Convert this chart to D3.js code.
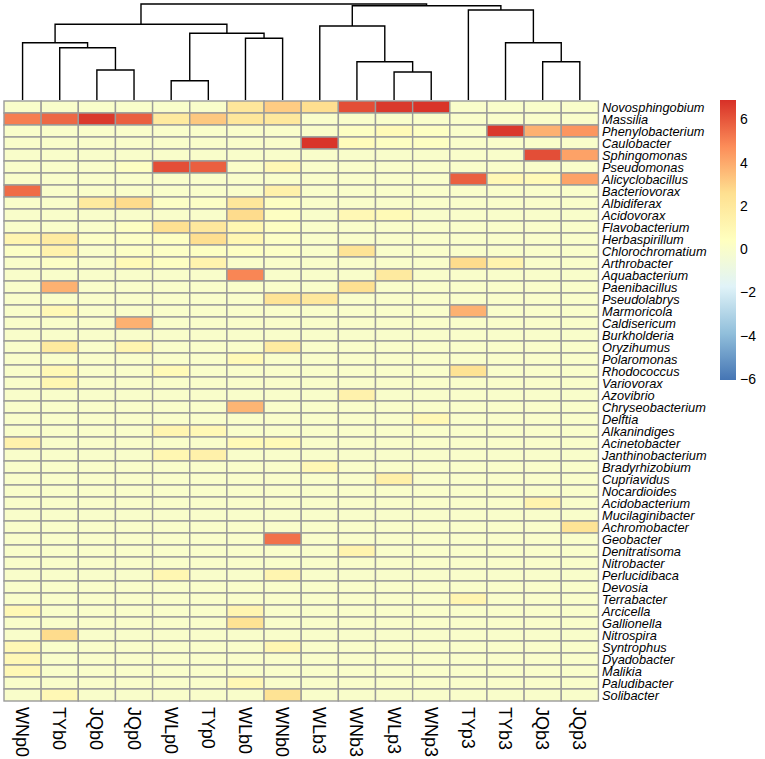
<!DOCTYPE html>
<html>
<head>
<meta charset="utf-8">
<script src="https://cdn.jsdelivr.net/npm/d3@7"></script>
<style>
  body { margin: 0; background: #fff; }
  svg { font-family: "Liberation Sans", Arial, sans-serif; }
</style>
</head>
<body>
<div id="container"></div>
<script>
// column order (after clustering) and row labels
const samples = ["WNp0","TYb0","JQb0","JQp0","WLp0","TYp0","WLb0","WNb0",
                 "WLb3","WNb3","WLp3","WNp3","TYp3","TYb3","JQb3","JQp3"];

const genera = ["Novosphingobium","Massilia","Phenylobacterium","Caulobacter","Sphingomonas",
  "Pseudomonas","Alicyclobacillus","Bacteriovorax","Albidiferax","Acidovorax","Flavobacterium",
  "Herbaspirillum","Chlorochromatium","Arthrobacter","Aquabacterium","Paenibacillus","Pseudolabrys",
  "Marmoricola","Caldisericum","Burkholderia","Oryzihumus","Polaromonas","Rhodococcus","Variovorax",
  "Azovibrio","Chryseobacterium","Delftia","Alkanindiges","Acinetobacter","Janthinobacterium",
  "Bradyrhizobium","Cupriavidus","Nocardioides","Acidobacterium","Mucilaginibacter","Achromobacter",
  "Geobacter","Denitratisoma","Nitrobacter","Perlucidibaca","Devosia","Terrabacter","Arcicella",
  "Gallionella","Nitrospira","Syntrophus","Dyadobacter","Malikia","Paludibacter","Solibacter"];

// one row per genus, one value per sample (same order as samples)
const values = [
  [0.0, 0.0, 0.0, 0.0, 0.0, 0.0, 2.1, 3.1, 2.6, 6.2, 6.7, 6.8, 0.0, 0.0, 0.0, 0.0],
  [5.1, 5.6, 6.7, 5.8, 1.9, 3.2, 2.1, 2.0, 0.0, 0.0, 0.0, 0.0, 0.0, 0.0, 0.0, 0.0],
  [0.0, 0.0, 0.0, 0.0, 0.0, 0.0, 0.0, 0.0, 0.0, 0.3, 0.8, 0.3, 0.0, 6.7, 3.8, 4.5],
  [0.0, 0.0, 0.0, 0.0, 0.0, 0.0, 0.0, 0.0, 6.8, 0.6, 0.3, 0.3, 0.0, 0.0, 0.0, 0.0],
  [0.0, 0.0, 0.0, 0.0, 0.0, 0.0, 0.0, 0.0, 0.0, 0.0, 0.0, 0.0, 0.0, 0.0, 6.2, 4.2],
  [0.0, 0.0, 0.0, 0.3, 6.2, 5.8, 0.1, 0.9, 0.0, 0.0, 0.0, 0.0, 0.0, 0.0, 0.0, 0.0],
  [0.0, 0.0, 0.0, 0.0, 0.0, 0.0, 0.0, 0.0, 0.0, 0.0, 0.0, 0.0, 5.8, 0.9, 0.8, 4.2],
  [5.5, 0.0, 0.0, 0.0, 0.0, 0.0, 0.0, 1.4, 0.0, 0.0, 0.0, 0.0, 0.0, 0.0, 0.0, 0.0],
  [0.0, 0.0, 1.9, 2.7, 0.2, 0.2, 2.1, 0.3, 0.0, 0.0, 0.0, 0.0, 0.0, 0.0, 0.0, 0.0],
  [0.0, 0.0, 0.0, 0.0, 0.0, 0.0, 2.7, 0.3, 0.0, 0.9, 0.8, 0.0, 0.0, 0.0, 0.0, 0.0],
  [0.0, 0.0, 0.0, 0.3, 2.5, 2.0, 1.0, 0.3, 0.0, 0.0, 0.0, 0.0, 0.0, 0.0, 0.0, 0.0],
  [1.1, 1.8, 0.2, 0.2, 0.3, 2.6, 1.0, 0.2, 0.0, 0.0, 0.0, 0.0, 0.0, 0.0, 0.0, 0.0],
  [0.2, 1.3, 0.0, 0.2, 0.2, 0.3, 0.3, 0.2, 0.0, 2.3, 0.0, 0.0, 0.0, 0.0, 0.0, 0.0],
  [0.0, 0.2, 0.0, 0.8, 0.3, 1.2, 0.0, 0.0, 0.0, 0.0, 0.0, 0.0, 2.7, 1.2, 0.0, 0.0],
  [0.0, 0.0, 0.0, 0.0, 0.0, 0.0, 4.9, 0.0, 0.0, 0.0, 1.9, 0.0, 0.0, 0.0, 0.0, 0.0],
  [0.0, 3.8, 0.0, 0.0, 0.0, 0.0, 0.0, 0.0, 0.0, 2.5, 0.0, 0.0, 0.0, 0.0, 0.0, 0.0],
  [0.0, 0.0, 0.0, 0.0, 0.0, 0.0, 0.0, 2.3, 2.0, 0.0, 0.0, 0.0, 0.0, 0.0, 0.0, 0.0],
  [0.0, 0.9, 0.0, 0.0, 0.0, 0.0, 0.0, 0.0, 0.0, 0.0, 0.0, 0.0, 3.8, 0.0, 0.0, 0.0],
  [0.0, 0.0, 0.0, 3.8, 0.0, 0.0, 0.0, 0.0, 0.0, 0.0, 0.0, 0.0, 0.0, 0.0, 0.0, 0.0],
  [0.0, 0.0, 0.0, 0.0, 0.0, 0.0, 0.0, 0.0, 0.0, 0.0, 0.0, 0.0, 0.0, 0.0, 0.0, 0.0],
  [0.0, 1.9, 0.0, 1.1, 0.0, 0.0, 0.0, 1.8, 0.0, 0.0, 0.0, 0.0, 0.0, 0.0, 0.0, 0.0],
  [0.0, 0.0, 0.0, 0.0, 0.0, 0.0, 0.8, 0.0, 0.0, 0.0, 0.0, 0.0, 0.0, 0.0, 0.0, 0.0],
  [0.0, 0.9, 0.0, 0.0, 0.8, 0.0, 0.0, 0.0, 0.0, 0.0, 0.0, 0.0, 2.4, 0.0, 0.0, 0.0],
  [0.0, 1.0, 0.0, 0.0, 0.0, 0.0, 0.0, 0.0, 0.0, 0.0, 0.0, 0.0, 0.0, 0.0, 0.0, 0.0],
  [0.0, 0.0, 0.0, 0.0, 0.0, 0.0, 0.0, 0.0, 0.0, 1.3, 0.0, 0.0, 0.0, 0.0, 0.0, 0.0],
  [0.0, 0.0, 0.0, 0.0, 0.0, 0.0, 3.7, 0.0, 0.0, 0.0, 0.0, 0.0, 0.0, 0.0, 0.0, 0.0],
  [0.0, 0.0, 0.0, 0.0, 0.0, 0.0, 0.0, 0.0, 0.0, 0.0, 0.0, 0.9, 0.0, 0.0, 0.0, 0.0],
  [0.0, 0.0, 0.0, 0.0, 1.1, 0.9, 0.0, 0.0, 0.0, 0.0, 0.0, 0.0, 0.0, 0.0, 0.0, 0.0],
  [1.3, 0.0, 0.0, 0.0, 0.0, 0.0, 0.8, 0.8, 0.0, 0.0, 0.0, 0.0, 0.0, 0.0, 0.0, 0.0],
  [0.0, 0.0, 0.0, 0.0, 1.0, 1.4, 0.0, 0.0, 0.0, 0.0, 0.0, 0.0, 0.0, 0.0, 0.0, 0.0],
  [0.0, 0.0, 0.0, 0.0, 0.0, 0.0, 0.0, 0.0, 0.9, 0.0, 0.0, 0.0, 0.0, 0.0, 0.0, 0.0],
  [0.0, 0.0, 0.0, 0.0, 0.0, 0.0, 0.0, 0.0, 0.0, 0.0, 1.5, 0.0, 0.0, 0.0, 0.0, 0.0],
  [0.0, 0.0, 0.0, 0.0, 0.0, 0.0, 0.0, 0.0, 0.0, 0.0, 0.0, 0.0, 0.0, 0.0, 0.0, 0.0],
  [0.0, 0.0, 0.0, 0.0, 0.0, 0.0, 0.0, 0.0, 0.0, 0.0, 0.0, 0.0, 0.0, 0.0, 1.2, 0.0],
  [0.0, 0.0, 0.0, 0.0, 0.0, 0.0, 0.0, 0.0, 0.0, 0.0, 0.0, 0.0, 0.0, 0.0, 0.0, 0.0],
  [0.0, 0.0, 0.0, 0.0, 0.0, 0.0, 0.0, 0.0, 0.0, 0.0, 0.0, 0.0, 0.0, 0.0, 0.0, 2.3],
  [0.0, 0.0, 0.0, 0.0, 0.0, 0.0, 0.0, 5.4, 0.0, 0.0, 0.0, 0.0, 0.0, 0.0, 0.0, 0.0],
  [0.0, 0.0, 0.0, 0.0, 0.0, 0.0, 0.0, 0.0, 0.0, 1.2, 0.0, 0.0, 0.0, 0.0, 0.0, 0.0],
  [0.0, 0.0, 0.0, 0.0, 0.0, 0.0, 0.0, 0.0, 0.0, 0.0, 0.0, 0.0, 0.0, 0.0, 0.0, 0.0],
  [0.0, 0.0, 0.0, 0.0, 1.0, 0.0, 0.0, 1.1, 0.0, 0.0, 0.0, 0.0, 0.0, 0.0, 0.0, 0.0],
  [0.0, 0.0, 0.0, 0.0, 0.0, 0.0, 0.0, 0.0, 0.0, 0.0, 0.0, 0.0, 0.0, 0.0, 0.0, 0.0],
  [0.0, 0.0, 0.0, 0.0, 0.0, 0.0, 0.0, 0.0, 0.0, 0.0, 0.0, 0.0, 1.1, 0.0, 0.0, 0.0],
  [0.9, 0.0, 0.0, 0.0, 0.0, 0.0, 1.1, 0.0, 0.0, 0.0, 0.0, 0.0, 0.0, 0.0, 0.0, 0.0],
  [0.0, 0.0, 0.0, 0.0, 0.0, 0.0, 2.4, 0.0, 0.0, 0.0, 0.0, 0.0, 0.0, 0.0, 0.0, 0.0],
  [0.0, 2.7, 0.0, 0.0, 0.0, 0.0, 0.0, 0.0, 0.0, 0.0, 0.0, 0.0, 0.0, 0.0, 0.0, 0.0],
  [0.9, 0.0, 0.0, 0.0, 0.0, 0.0, 0.0, 1.0, 0.0, 0.0, 0.0, 0.0, 0.0, 0.0, 0.0, 0.0],
  [0.9, 0.0, 0.0, 0.0, 0.0, 0.0, 0.0, 0.0, 0.0, 0.0, 0.0, 0.0, 0.0, 0.0, 0.0, 0.0],
  [0.9, 0.0, 0.0, 0.0, 0.0, 0.0, 0.0, 0.0, 0.0, 0.0, 0.0, 0.0, 0.0, 0.0, 0.0, 0.0],
  [0.0, 0.0, 0.0, 0.0, 0.0, 0.0, 0.9, 0.0, 0.0, 0.0, 0.0, 0.0, 0.0, 0.0, 0.0, 0.0],
  [0.0, 0.9, 0.0, 0.0, 0.0, 0.0, 0.0, 2.4, 0.0, 0.0, 0.0, 0.0, 0.0, 0.0, 0.0, 0.0]
];

// column dendrogram: [left, right, height]; strings = leaves, numbers = earlier merges
const merges = [
  ["WLp0", "TYp0", 19.3],
  ["WLp3", "WNp3", 28],
  ["JQb0", "JQp0", 30],
  ["WNb3", 1, 38.3],
  ["JQb3", "JQp3", 38.3],
  ["TYb0", 2, 52.3],
  ["WNp0", 5, 57.3],
  ["TYb3", 4, 57.3],
  ["WLb0", "WNb0", 61.7],
  [0, 8, 66.7],
  ["WLb3", 3, 74],
  [6, 9, 75.7],
  ["TYp3", 7, 90],
  [10, 12, 94.3],
  [11, 13, 96]
];

const legendTicks = [6, 4, 2, 0, -2, -4, -6];
const palette = ["#4575B4","#91BFDB","#E0F3F8","#FFFFBF","#FEE090","#FC8D59","#D73027"];
const valueRange = [-6.05, 6.9];

const width = 765, height = 759;

const svg = d3.select("#container").append("svg")
    .attr("width", width)
    .attr("height", height);

const x = d3.scaleBand().domain(samples).range([4, 598.4]);
const y = d3.scaleBand().domain(genera).range([101, 701]);

const step = (valueRange[1] - valueRange[0]) / (palette.length - 1);
const color = d3.scaleLinear()
    .domain(palette.map((c, i) => valueRange[0] + i * step))
    .range(palette)
    .clamp(true);

// cells
const cells = [];
values.forEach((row, i) => row.forEach((v, j) => cells.push({g: genera[i], s: samples[j], v: v})));

svg.append("g")
  .selectAll("rect")
  .data(cells)
  .join("rect")
    .attr("x", d => x(d.s))
    .attr("y", d => y(d.g))
    .attr("width", x.bandwidth())
    .attr("height", y.bandwidth())
    .attr("fill", d => color(d.v))
    .attr("stroke", "#9a9a9a")
    .attr("stroke-width", 1.4);

// row labels
svg.append("g")
  .selectAll("text")
  .data(genera)
  .join("text")
    .attr("x", 602)
    .attr("y", d => y(d) + y.bandwidth() / 2)
    .attr("dy", "0.36em")
    .attr("font-size", "12.8px")
    .attr("font-style", "italic")
    .attr("fill", "#000")
    .text(d => d);

// column labels, rotated
svg.append("g")
  .selectAll("text")
  .data(samples)
  .join("text")
    .attr("transform", d => `translate(${x(d) + x.bandwidth() / 2},707) rotate(90)`)
    .attr("dy", "0.36em")
    .attr("font-size", "18px")
    .attr("fill", "#000")
    .text(d => d);

// dendrogram
const h = d3.scaleLinear().domain([0, 96]).range([100, 4]);
const nodes = [];
function pos(ref) {
  if (typeof ref === "string") return {x: x(ref) + x.bandwidth() / 2, y: h(0)};
  return nodes[ref];
}
const dendro = svg.append("g")
    .attr("fill", "none")
    .attr("stroke", "#000")
    .attr("stroke-width", 1.4);
merges.forEach(m => {
  const a = pos(m[0]), b = pos(m[1]), yy = h(m[2]);
  dendro.append("path")
      .attr("d", `M${a.x},${a.y}V${yy}H${b.x}V${b.y}`);
  nodes.push({x: (a.x + b.x) / 2, y: yy});
});

// legend
const legTop = 100, legBottom = 380;
const ly = d3.scaleLinear().domain([valueRange[1], valueRange[0]]).range([legTop, legBottom]);
const grad = svg.append("defs").append("linearGradient")
    .attr("id", "leg")
    .attr("x1", 0).attr("x2", 0).attr("y1", 0).attr("y2", 1);
palette.slice().reverse().forEach((c, i) => {
  grad.append("stop")
      .attr("offset", i / (palette.length - 1))
      .attr("stop-color", c);
});
svg.append("rect")
    .attr("x", 720)
    .attr("y", legTop)
    .attr("width", 16)
    .attr("height", legBottom - legTop)
    .attr("fill", "url(#leg)");

svg.append("g")
  .selectAll("text")
  .data(legendTicks)
  .join("text")
    .attr("x", 740)
    .attr("y", d => ly(d))
    .attr("dy", "0.36em")
    .attr("font-size", "14px")
    .attr("fill", "#000")
    .text(d => d < 0 ? "\u2212" + Math.abs(d) : d);
</script>
</body>
</html>
